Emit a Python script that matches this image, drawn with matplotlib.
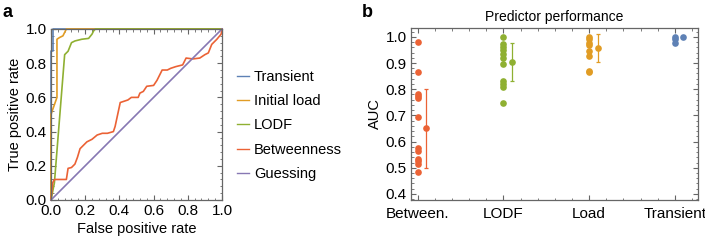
import matplotlib
matplotlib.use("Agg")
import matplotlib.pyplot as plt
from matplotlib.ticker import MultipleLocator, FixedLocator

# ROC curves (false positive rate, true positive rate)
transient_fpr = [0.0, 0.0, 0.01, 0.01, 0.02, 1.0]
transient_tpr = [0.0, 0.87, 0.87, 1.0, 1.0, 1.0]
load_fpr = [0.0, 0.0, 0.035, 0.035, 0.05, 0.07, 0.09, 1.0]
load_tpr = [0.0, 0.5, 0.6, 0.94, 0.95, 0.96, 1.0, 1.0]
lodf_fpr = [0.0, 0.01, 0.02, 0.08, 0.1, 0.12, 0.14, 0.18, 0.22, 0.24, 0.25, 0.26, 1.0]
lodf_tpr = [0.0, 0.05, 0.1, 0.85, 0.87, 0.92, 0.93, 0.94, 0.945, 0.97, 0.99, 1.0, 1.0]
betw_fpr = [0.0, 0.005, 0.01, 0.02, 0.09, 0.1, 0.12, 0.14, 0.155, 0.17, 0.19, 0.21,
            0.24, 0.27, 0.30, 0.33, 0.365, 0.375, 0.405, 0.45, 0.47, 0.51, 0.52,
            0.54, 0.56, 0.60, 0.62, 0.635, 0.65, 0.68, 0.70, 0.73, 0.77, 0.78,
            0.79, 0.83, 0.87, 0.90, 0.92, 0.94, 0.97, 0.995, 1.0]
betw_tpr = [0.0, 0.05, 0.1, 0.12, 0.12, 0.185, 0.19, 0.21, 0.25, 0.30, 0.32, 0.34,
            0.355, 0.38, 0.39, 0.39, 0.40, 0.43, 0.57, 0.585, 0.6, 0.6, 0.625,
            0.635, 0.665, 0.67, 0.70, 0.73, 0.76, 0.76, 0.77, 0.78, 0.79, 0.81,
            0.83, 0.825, 0.83, 0.85, 0.86, 0.91, 0.94, 0.97, 1.0]
guess_fpr = [0.0, 1.0]
guess_tpr = [0.0, 1.0]

# AUC values per predictor
categories = ["Between.", "LODF", "Load", "Transient"]
auc_betw = [0.98, 0.864, 0.783, 0.775, 0.766, 0.694, 0.575, 0.564, 0.534, 0.524, 0.514, 0.484]
auc_lodf = [1.0, 0.974, 0.962, 0.949, 0.936, 0.92, 0.895, 0.833, 0.82, 0.808, 0.747]
auc_load = [1.0, 0.99, 0.978, 0.97, 0.944, 0.925, 0.871, 0.865]
auc_trans = [1.0, 0.99, 0.978]
auc_mean = [0.65, 0.905, 0.957, 0.999]
auc_low = [0.498, 0.83, 0.904, 0.995]
auc_high = [0.80, 0.978, 1.009, 1.003]

BLUE = "#5E81B5"
ORANGE = "#E19C24"
GREEN = "#8FB032"
RED = "#EB6235"
PURPLE = "#8778B3"
FRAME = "#666666"

plt.rcParams["font.family"] = "Liberation Sans"

fig = plt.figure(figsize=(7.05, 2.42), dpi=100)


def style_axes(ax):
    for sp in ax.spines.values():
        sp.set_color(FRAME)
        sp.set_linewidth(0.9)
    ax.tick_params(which="both", direction="in", top=True, right=True,
                   color=FRAME, labelsize=11, pad=3)
    ax.tick_params(which="major", length=3.5)
    ax.tick_params(which="minor", length=1.8)


# Panel a: ROC curves
ax1 = fig.add_axes([0.0723, 0.1736, 0.2426, 0.7066])
ax1.plot(transient_fpr, transient_tpr, color=BLUE, lw=1.2, label="Transient", clip_on=False)
ax1.plot(load_fpr, load_tpr, color=ORANGE, lw=1.2, label="Initial load", clip_on=False)
ax1.plot(lodf_fpr, lodf_tpr, color=GREEN, lw=1.2, label="LODF", clip_on=False)
ax1.plot(betw_fpr, betw_tpr, color=RED, lw=1.2, label="Betweenness", clip_on=False)
ax1.plot(guess_fpr, guess_tpr, color=PURPLE, lw=1.2, label="Guessing", clip_on=False)
ax1.set_xlim(0, 1)
ax1.set_ylim(0, 1)
ax1.xaxis.set_major_locator(MultipleLocator(0.2))
ax1.yaxis.set_major_locator(MultipleLocator(0.2))
ax1.xaxis.set_minor_locator(MultipleLocator(0.04))
ax1.yaxis.set_minor_locator(MultipleLocator(0.04))
ax1.xaxis.set_major_formatter(lambda v, p: f"{v:.1f}")
ax1.yaxis.set_major_formatter(lambda v, p: f"{v:.1f}")
style_axes(ax1)
ax1.set_xlabel("False positive rate", fontsize=10.5, labelpad=3)
ax1.set_ylabel("True positive rate", fontsize=10.5, labelpad=3)
leg = ax1.legend(loc="center left", bbox_to_anchor=(1.012, 0.436), frameon=False,
                 fontsize=10.5, handlelength=0.8, handletextpad=0.35,
                 labelspacing=0.7)
for line in leg.get_lines():
    line.set_linewidth(1.0)
fig.text(0.003, 0.985, "a", fontsize=13, fontweight="bold", va="top")

# Panel b: AUC per predictor
ax2 = fig.add_axes([0.583, 0.1736, 0.4071, 0.711])
groups = [auc_betw, auc_lodf, auc_load, auc_trans]
colors = [RED, GREEN, ORANGE, BLUE]
for i, (vals, c) in enumerate(zip(groups, colors)):
    xpos = i + 1
    ax2.plot([xpos] * len(vals), vals, "o", color=c, ms=4.8, mec="none")
    ax2.errorbar([xpos + 0.1], [auc_mean[i]],
                 yerr=[[auc_mean[i] - auc_low[i]], [auc_high[i] - auc_mean[i]]],
                 fmt="o", color=c, ms=4.8, mec="none", elinewidth=0.9,
                 capsize=1.5, capthick=0.9)
ax2.set_xlim(0.922, 4.27)
ax2.set_ylim(0.377, 1.034)
ax2.xaxis.set_major_locator(FixedLocator([1, 2, 3, 4]))
ax2.set_xticklabels(categories)
ax2.xaxis.set_minor_locator(MultipleLocator(0.2))
ax2.yaxis.set_major_locator(MultipleLocator(0.1))
ax2.yaxis.set_minor_locator(MultipleLocator(0.02))
ax2.yaxis.set_major_formatter(lambda v, p: f"{v:.1f}")
style_axes(ax2)
ax2.tick_params(axis="x", which="major", pad=5)
ax2.set_ylabel("AUC", fontsize=10.5, labelpad=3)
ax2.set_title("Predictor performance", fontsize=10, pad=5)
fig.text(0.513, 0.985, "b", fontsize=13, fontweight="bold", va="top")

fig.savefig("out.png", dpi=100)
